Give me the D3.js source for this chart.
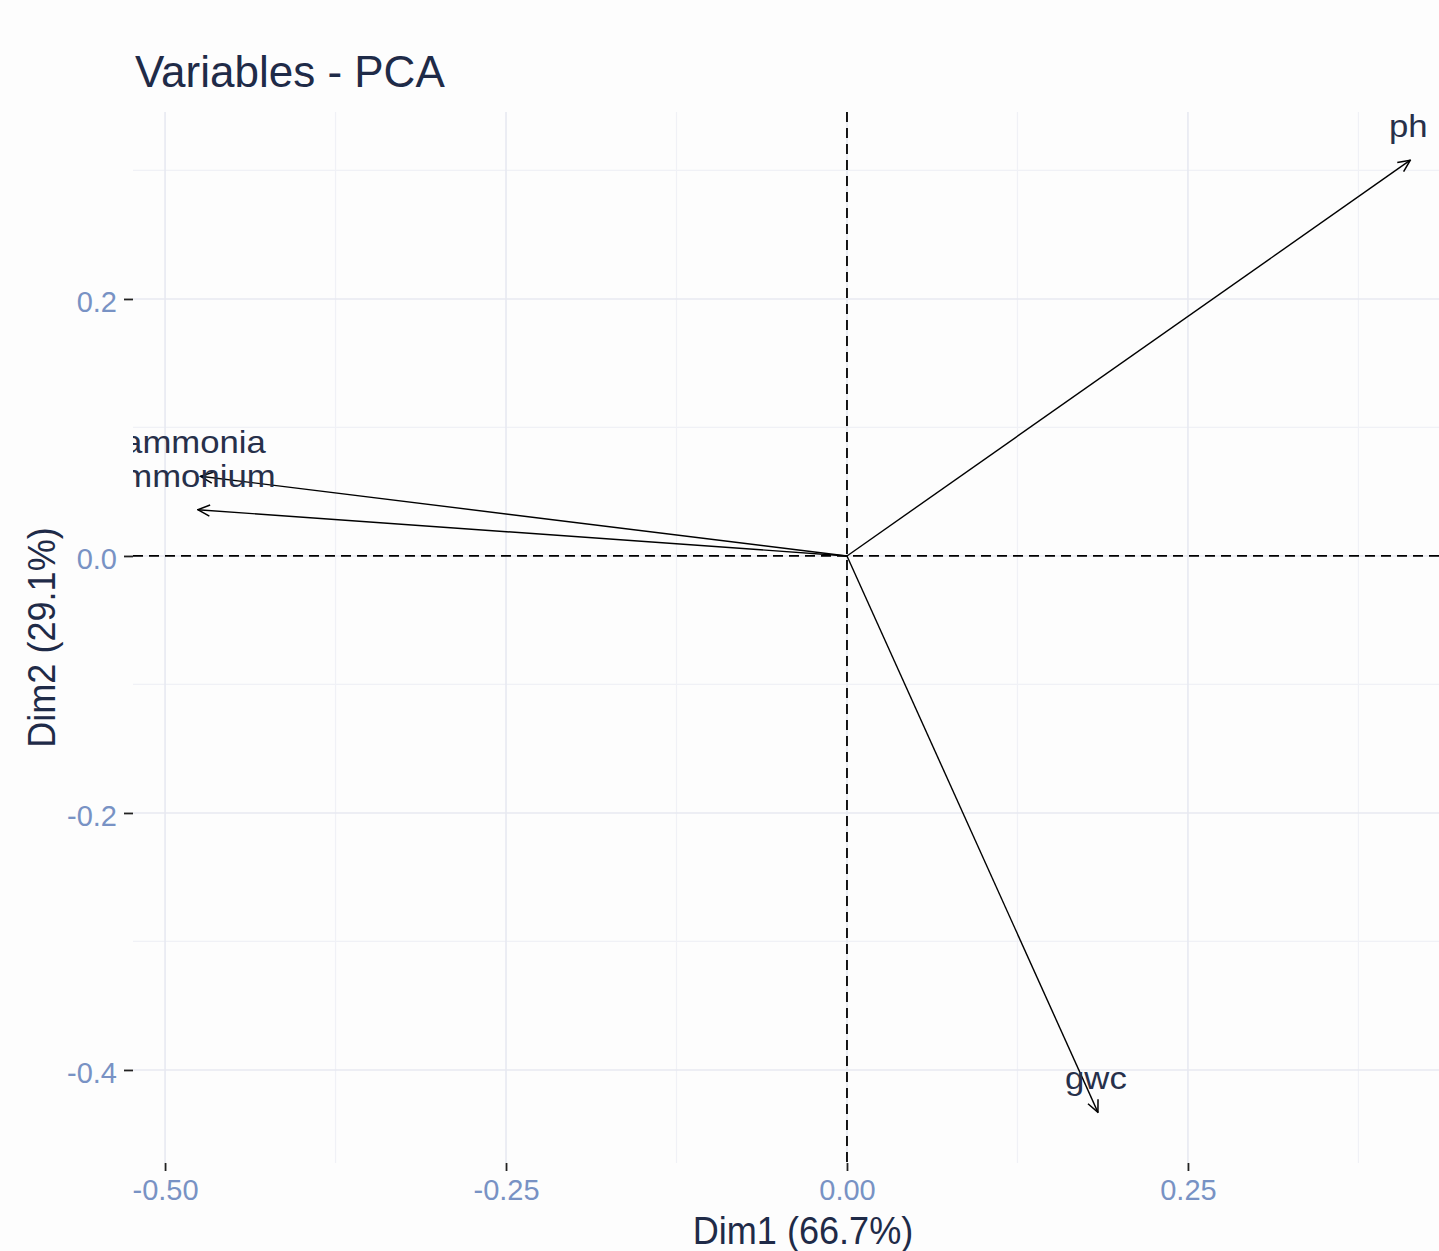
<!DOCTYPE html>
<html>
<head>
<meta charset="utf-8">
<script src="https://cdn.jsdelivr.net/npm/d3@7"></script>
<style>
  html, body { margin: 0; padding: 0; background: #fdfdfd; }
  svg { display: block; }
  text { font-family: "Liberation Sans", Arial, sans-serif; }
</style>
</head>
<body>
<script>
// ---- data ----
const variables = ["ph", "ammonia", "ammonium", "gwc"];
const dim1 = [0.413, -0.474, -0.476, 0.184];
const dim2 = [0.308, 0.062, 0.036, -0.433];
const xTicks = [-0.50, -0.25, 0.00, 0.25];
const xTickLabels = ["-0.50", "-0.25", "0.00", "0.25"];
const yTicks = [0.2, 0.0, -0.2, -0.4];
const yTickLabels = ["0.2", "0.0", "-0.2", "-0.4"];
const xMinor = [-0.375, -0.125, 0.125, 0.375];
const yMinor = [0.3, 0.1, -0.1, -0.3];
const titleText = "Variables - PCA";
const xTitle = "Dim1 (66.7%)";
const yTitle = "Dim2 (29.1%)";

const W = 1439, H = 1251;
const panel = { left: 133, right: 1473, top: 112, bottom: 1163 };

const svg = d3.select("body").append("svg").attr("width", W).attr("height", H);
svg.append("rect").attr("width", W).attr("height", H).attr("fill", "#fdfdfd");

const x = d3.scaleLinear().domain([-0.5235, 0.459]).range([panel.left, panel.right]);
const y = d3.scaleLinear().domain([0.3455, -0.4724]).range([panel.top, panel.bottom]);

const defs = svg.append("defs");
defs.append("clipPath").attr("id", "clip").append("rect")
  .attr("x", panel.left).attr("y", panel.top)
  .attr("width", panel.right - panel.left).attr("height", panel.bottom - panel.top);

const marker = defs.append("marker").attr("id", "arrow")
  .attr("viewBox", "0 0 14 14").attr("refX", 13).attr("refY", 7)
  .attr("markerWidth", 14).attr("markerHeight", 14).attr("markerUnits", "userSpaceOnUse")
  .attr("orient", "auto");
marker.append("path").attr("d", "M1,1.5 L13,7 L1,12.5").attr("fill", "none")
  .attr("stroke", "#000").attr("stroke-width", 1.5);

const g = svg.append("g");
const pg = g.append("g").attr("clip-path", "url(#clip)");

// grid
pg.selectAll(".xminor").data(xMinor).join("line")
  .attr("x1", d => x(d)).attr("x2", d => x(d)).attr("y1", panel.top).attr("y2", panel.bottom)
  .attr("stroke", "#f0f1f6").attr("stroke-width", 1.2);
pg.selectAll(".yminor").data(yMinor).join("line")
  .attr("y1", d => y(d)).attr("y2", d => y(d)).attr("x1", panel.left).attr("x2", panel.right)
  .attr("stroke", "#f0f1f6").attr("stroke-width", 1.2);
pg.selectAll(".xmajor").data(xTicks).join("line")
  .attr("x1", d => x(d)).attr("x2", d => x(d)).attr("y1", panel.top).attr("y2", panel.bottom)
  .attr("stroke", "#e7e9f1").attr("stroke-width", 1.6);
pg.selectAll(".ymajor").data(yTicks).join("line")
  .attr("y1", d => y(d)).attr("y2", d => y(d)).attr("x1", panel.left).attr("x2", panel.right)
  .attr("stroke", "#e7e9f1").attr("stroke-width", 1.6);

// dashed reference lines
pg.append("line").attr("x1", x(0)).attr("x2", x(0)).attr("y1", panel.top).attr("y2", panel.bottom)
  .attr("stroke", "#000").attr("stroke-width", 1.8).attr("stroke-dasharray", "10,6");
pg.append("line").attr("y1", y(0)).attr("y2", y(0)).attr("x1", panel.left).attr("x2", panel.right)
  .attr("stroke", "#000").attr("stroke-width", 1.8).attr("stroke-dasharray", "10,6");

// arrows
const data = variables.map((v, i) => ({ name: v, x: dim1[i], y: dim2[i] }));
pg.selectAll(".arrow").data(data).join("line")
  .attr("x1", x(0)).attr("y1", y(0))
  .attr("x2", d => x(d.x)).attr("y2", d => y(d.y))
  .attr("stroke", "#000").attr("stroke-width", 1.4)
  .attr("marker-end", "url(#arrow)");

// labels
const labelShift = { ph: -2, ammonia: -6, ammonium: -8, gwc: -2 };
pg.selectAll(".lab").data(data).join("text")
  .attr("transform", d => `translate(${x(d.x) + labelShift[d.name]},${y(d.y) - 23}) scale(1.12,1)`)
  .attr("text-anchor", "middle")
  .attr("font-size", 31).attr("fill", "#27304a")
  .text(d => d.name);

// axes
const xAxis = d3.axisBottom(x).tickValues(xTicks).tickFormat((d, i) => xTickLabels[i])
  .tickSize(8).tickPadding(7);
const yAxis = d3.axisLeft(y).tickValues(yTicks).tickFormat((d, i) => yTickLabels[i])
  .tickSize(9).tickPadding(7);
const gx = g.append("g").attr("transform", `translate(0,${panel.bottom})`).call(xAxis);
const gy = g.append("g").attr("transform", `translate(${panel.left},0)`).call(yAxis);
[gx, gy].forEach(a => {
  a.select(".domain").remove();
  a.selectAll(".tick line").attr("stroke", "#222").attr("stroke-width", 1.8);
  a.selectAll(".tick text").attr("fill", "#7892c4").attr("font-size", 29)
    .attr("font-family", "'Liberation Sans', Arial, sans-serif");
});
gx.selectAll(".tick text").attr("y", 37).attr("dy", "0");
gy.selectAll(".tick text").attr("dy", "0.42em");

// titles
svg.append("text").attr("x", 135).attr("y", 87).attr("font-size", 44).attr("fill", "#1f2b48")
  .text(titleText);
svg.append("text").attr("transform", "translate(803,1244) scale(0.95,1)").attr("text-anchor", "middle")
  .attr("font-size", 38).attr("fill", "#1f2b48").text(xTitle);
svg.append("text").attr("transform", `translate(55,${(panel.top + panel.bottom) / 2}) rotate(-90) scale(0.95,1)`)
  .attr("text-anchor", "middle").attr("font-size", 38).attr("fill", "#1f2b48").text(yTitle);
</script>
</body>
</html>
